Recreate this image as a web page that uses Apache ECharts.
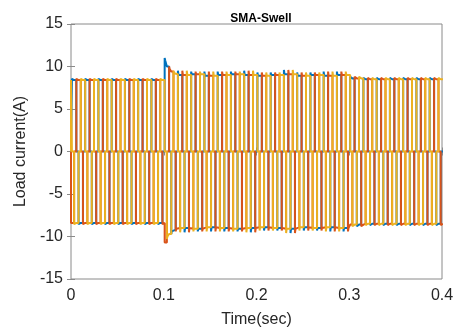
<!DOCTYPE html>
<html>
<head>
<meta charset="utf-8">
<script src="https://cdn.jsdelivr.net/npm/echarts@6/dist/echarts.min.js"></script>
<style>
  html, body { margin: 0; padding: 0; background: #fff; }
  #chart { width: 454px; height: 329px; }
</style>
</head>
<body>
<div id="chart"></div>
<script>
// time axis ticks
const xTicks = [0, 0.1, 0.2, 0.3, 0.4]
const yTicks = [-15, -10, -5, 0, 5, 10, 15]

// waveform timing (~28 cycles in 0.4 s)
const period = 0.4 / 28
const firstCycleStart = -0.0133

// 120-degree conduction shape per 60-degree step, one entry per phase
const phaseNames = ['Ia', 'Ib', 'Ic']
const patternA = [1, 1, 0, -1, -1, 0]
const patternB = [-1, 0, 1, 1, 0, -1]
const patternC = [0, -1, -1, 0, 1, 1]

// plateau level of each cycle (A); cycle 8 is the swell cycle
const cycleAmp = [
  8.4, 8.4, 8.4, 8.4, 8.4, 8.4, 8.4, 8.4,
  0,
  9.0, 9.1, 8.9, 9.0, 9.1, 9.0, 8.9, 9.0, 9.1, 8.9, 9.0, 8.9, 9.0,
  8.6, 8.5, 8.5, 8.5, 8.5, 8.5, 8.5
]
// overshoot at the start of each pulse (A)
const cycleSpike = [
  0.15, 0.15, 0.15, 0.15, 0.15, 0.15, 0.15, 0.15,
  0.3,
  0.5, 0.3, 0.5, 0.4, 0.3, 0.5, 0.4, 0.3, 0.5, 0.4, 0.3, 0.5, 0.4,
  0.2, 0.15, 0.15, 0.15, 0.15, 0.15, 0.15
]
const swellCycle = 8
const swellAmp = [10.7, 10.0, 9.7, 9.4, 9.2, 9.1]

function buildPhase(pattern) {
  const pts = [[0, 0]]
  const step = period / 6
  for (let k = 0; k < cycleAmp.length; k++) {
    for (let s = 0; s < 6; s++) {
      const ts = firstCycleStart + k * period + s * step
      const te = ts + step
      if (te <= 0) continue
      const a = k === swellCycle ? swellAmp[s] : cycleAmp[k]
      const sign = pattern[s]
      const prev = pattern[(s + 5) % 6]
      const start = Math.max(ts, 0)
      if (sign !== 0 && prev !== sign && ts > 0) {
        pts.push([start, sign * (a + cycleSpike[k])])
        pts.push([start + step / 4, sign * a])
      } else {
        pts.push([start, sign * a])
      }
      pts.push([te, sign * a])
    }
  }
  return pts
}

const colors = ['#0072BD', '#D95319', '#EDB120']
const patterns = [patternA, patternB, patternC]
const textColor = '#262626'
const axisColor = '#8a8a8a'
const font = "'Liberation Sans', Arial, Helvetica, sans-serif"

const chart = echarts.init(document.getElementById('chart'))
chart.setOption({
  animation: false,
  title: {
    text: 'SMA-Swell',
    left: 256,
    textAlign: 'center',
    top: 8,
    textStyle: { fontSize: 12, fontWeight: 'bold', color: '#000', fontFamily: font }
  },
  grid: {
    left: 71, right: 12, top: 24, bottom: 50,
    outerBoundsMode: 'none',
    show: true, borderColor: axisColor, borderWidth: 1
  },
  xAxis: [
    {
      type: 'value', min: 0, max: 0.4, interval: 0.1,
      name: 'Time(sec)', nameLocation: 'middle', nameGap: 33,
      nameTextStyle: { fontSize: 16, color: textColor, fontFamily: font },
      axisLine: { show: false },
      axisTick: { show: true, inside: true, length: 4, lineStyle: { color: axisColor } },
      axisLabel: {
        fontSize: 16, color: textColor, fontFamily: font, margin: 9,
        formatter: v => String(+v.toFixed(1))
      },
      splitLine: { show: false }
    },
    {
      type: 'value', min: 0, max: 0.4, interval: 0.1, position: 'top',
      axisLine: { show: false },
      axisTick: { show: true, inside: true, length: 4, lineStyle: { color: axisColor } },
      axisLabel: { show: false },
      splitLine: { show: false }
    }
  ],
  yAxis: [
    {
      type: 'value', min: -15, max: 15, interval: 5,
      name: 'Load current(A)', nameLocation: 'middle', nameGap: 36,
      nameTextStyle: { fontSize: 16, color: textColor, fontFamily: font },
      axisLine: { show: false },
      axisTick: { show: true, inside: true, length: 4, lineStyle: { color: axisColor } },
      axisLabel: { fontSize: 16, color: textColor, fontFamily: font, margin: 8 },
      splitLine: { show: false }
    },
    {
      type: 'value', min: -15, max: 15, interval: 5, position: 'right',
      axisLine: { show: false },
      axisTick: { show: true, inside: true, length: 4, lineStyle: { color: axisColor } },
      axisLabel: { show: false },
      splitLine: { show: false }
    }
  ],
  series: phaseNames.map((name, i) => ({
    name: name,
    type: 'line',
    data: buildPhase(patterns[i]),
    showSymbol: false,
    symbol: 'none',
    clip: true,
    lineStyle: { color: colors[i], width: 2 }
  }))
})
</script>
</body>
</html>
